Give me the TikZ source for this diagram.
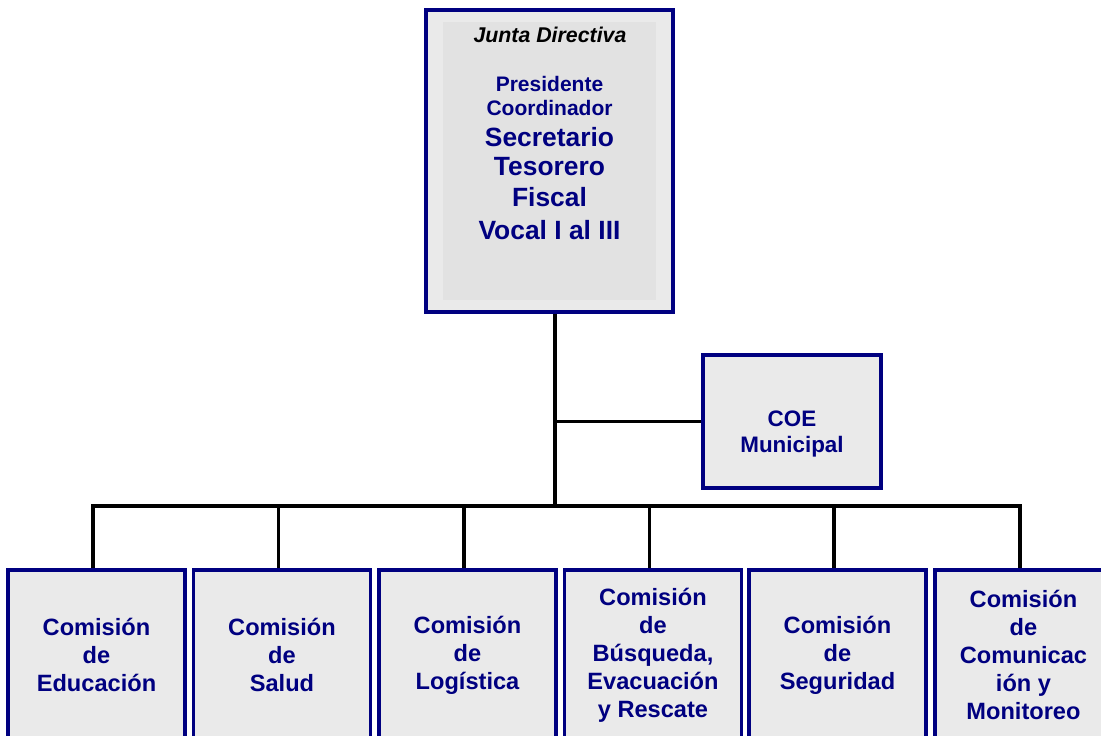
\documentclass[tikz,border=0pt]{standalone}
\usepackage{fontspec}
\setmainfont{Liberation Sans}
\definecolor{navy}{HTML}{000080}
\definecolor{boxfill}{HTML}{EAEAEA}
\definecolor{innerfill}{HTML}{E2E2E2}
\begin{document}
\begin{tikzpicture}[x=0.75pt,y=-0.75pt,
  orgbox/.style={draw=navy, line width=2.6pt, fill=boxfill, inner sep=0pt, rectangle},
  conn/.style={line width=2.6pt, black, line join=miter},
  lbl/.style={text=navy, font=\bfseries\fontsize{17.7}{21}\selectfont, align=center, inner sep=0pt},
  toplbl/.style={text=navy, inner sep=0pt},
]
\useasboundingbox (0,0) rectangle (1101,736);

% top box
\node[orgbox, minimum width=185.25pt, minimum height=226.5pt] (jd) at (549.5,161) {};
\node[fill=innerfill, inner sep=0pt, minimum width=159.75pt, minimum height=208.5pt] (jdin) at (549.5,161) {};
\node[inner sep=0pt, font=\bfseries\itshape\fontsize{16}{19}\selectfont] (jt) at (550,35) {Junta Directiva};
\node[toplbl, font=\bfseries\fontsize{15.75}{18}\selectfont] (pres) at (549.5,84) {Presidente};
\node[toplbl, font=\bfseries\fontsize{15.75}{18}\selectfont] (coord) at (549.5,108) {Coordinador};
\node[toplbl, font=\bfseries\fontsize{19.8}{23}\selectfont] (sec) at (549.5,137) {Secretario};
\node[toplbl, font=\bfseries\fontsize{19.8}{23}\selectfont] (tes) at (549.5,167) {Tesorero};
\node[toplbl, font=\bfseries\fontsize{19.8}{23}\selectfont] (fis) at (549.5,197) {Fiscal};
\node[toplbl, font=\bfseries\fontsize{19.8}{23}\selectfont] (voc) at (549.5,230) {Vocal I al III};

% COE box
\node[orgbox, minimum width=133.5pt, minimum height=99.75pt] (coe) at (792,421.5) {};
\node[lbl, font=\bfseries\fontsize{16.8}{20}\selectfont] (coet) at (792,434) {COE\\Municipal};

% bottom boxes
\node[orgbox, minimum width=132.75pt, minimum height=127.5pt, lbl] (b1) at (96.5,655) {Comisión\\de\\Educación};
\node[orgbox, minimum width=132.75pt, minimum height=127.5pt, lbl] (b2) at (282,655) {Comisión\\de\\Salud};
\node[orgbox, minimum width=132.75pt, minimum height=127.5pt, lbl] (b3) at (467.5,655) {Comisión\\de\\Logística};
\node[orgbox, minimum width=132.75pt, minimum height=127.5pt, lbl] (b4) at (653,655) {Comisión\\de\\Búsqueda,\\Evacuación\\y Rescate};
\node[orgbox, minimum width=132.75pt, minimum height=127.5pt, lbl] (b5) at (837.5,655) {Comisión\\de\\Seguridad};
\node[orgbox, minimum width=132.75pt, minimum height=127.5pt, lbl] (b6) at (1023.5,655) {Comisión\\de\\Comunicac\\ión y\\Monitoreo};

% connectors
\coordinate (bus) at (0,506);
\coordinate (stemtop) at ([xshift=4.1pt]jd.south);
\draw[conn] (stemtop) -- (stemtop |- bus);
\draw[conn] (coe.west) -- (coe.west -| stemtop);
\draw[conn] ([xshift=-2.6pt]b1.north) |- ([xshift=-2.6pt]b6.north |- bus) -- ([xshift=-2.6pt]b6.north);
\foreach \i in {2,3,4,5}{
  \draw[conn] ([xshift=-2.6pt]b\i.north) -- ([xshift=-2.6pt]b\i.north |- bus);
}
\end{tikzpicture}
\end{document}
